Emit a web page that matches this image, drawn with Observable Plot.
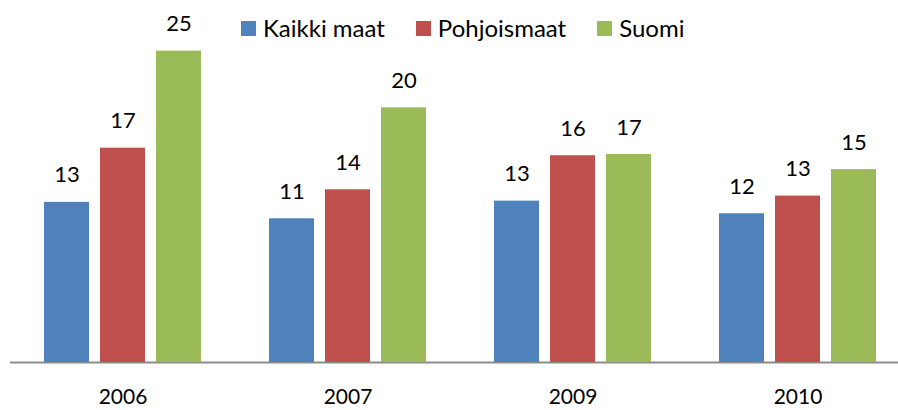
<!DOCTYPE html>
<html>
<head>
<meta charset="utf-8">
<script src="https://cdn.jsdelivr.net/npm/d3@7"></script>
<script src="https://cdn.jsdelivr.net/npm/@observablehq/plot@0.6"></script>
<style>
  body { margin: 0; background: #fff; }
  #wrap { position: relative; width: 898px; height: 410px; font-family: Lato, "Open Sans", sans-serif; }
  #legend { position: absolute; top: 14px; left: 241px; display: flex; gap: 31px; font-size: 24px; line-height: 28px; color: #000; }
  .item { display: flex; align-items: center; }
  .sw { width: 15px; height: 15px; margin-right: 7px; }
</style>
</head>
<body>
<div id="wrap"><div id="legend"></div></div>
<script>
const years = ["2006", "2007", "2009", "2010"];
const series = ["Kaikki maat", "Pohjoismaat", "Suomi"];
const colors = ["#4F81BD", "#C0504D", "#9BBB59"];
const kaikkiMaat = [12.7, 11.4, 12.8, 11.8];
const pohjoismaat = [17.0, 13.7, 16.4, 13.2];
const suomi = [24.7, 20.2, 16.5, 15.3];

const values = [kaikkiMaat, pohjoismaat, suomi];
const data = [];
years.forEach((y, i) => series.forEach((s, j) => data.push({year: y, series: s, value: values[j][i]})));

const chart = Plot.plot({
  width: 898,
  height: 410,
  marginLeft: 10,
  marginRight: 0,
  marginTop: 9,
  marginBottom: 48,
  style: {fontFamily: "Lato, 'Open Sans', sans-serif", fontSize: "22px", color: "#000", background: "transparent"},
  fx: {domain: years, range: [9.5, 910.6], paddingInner: 0, paddingOuter: 0, label: null},
  x: {domain: series, paddingInner: 0.2, paddingOuter: 0.6, axis: null},
  y: {domain: [0, 28], axis: null},
  color: {domain: series, range: colors},
  marks: [
    Plot.ruleY([0], {stroke: "#8c8c8c", strokeWidth: 2}),
    Plot.barY(data, {fx: "year", x: "series", y: "value", fill: "series"}),
    Plot.text(data, {fx: "year", x: "series", y: "value", text: d => Math.round(d.value), dy: -27, fontSize: 22, fill: "#000"}),
    Plot.axisFx({anchor: "bottom", tickSize: 0, tickPadding: 27, fontSize: 21, label: null, fill: "#000"})
  ]
});
document.getElementById("wrap").appendChild(chart);

const legend = document.getElementById("legend");
series.forEach((s, i) => {
  const it = document.createElement("div");
  it.className = "item";
  const sw = document.createElement("span");
  sw.className = "sw";
  sw.style.background = colors[i];
  const t = document.createElement("span");
  t.textContent = s;
  it.appendChild(sw); it.appendChild(t);
  legend.appendChild(it);
});
</script>
</body>
</html>
